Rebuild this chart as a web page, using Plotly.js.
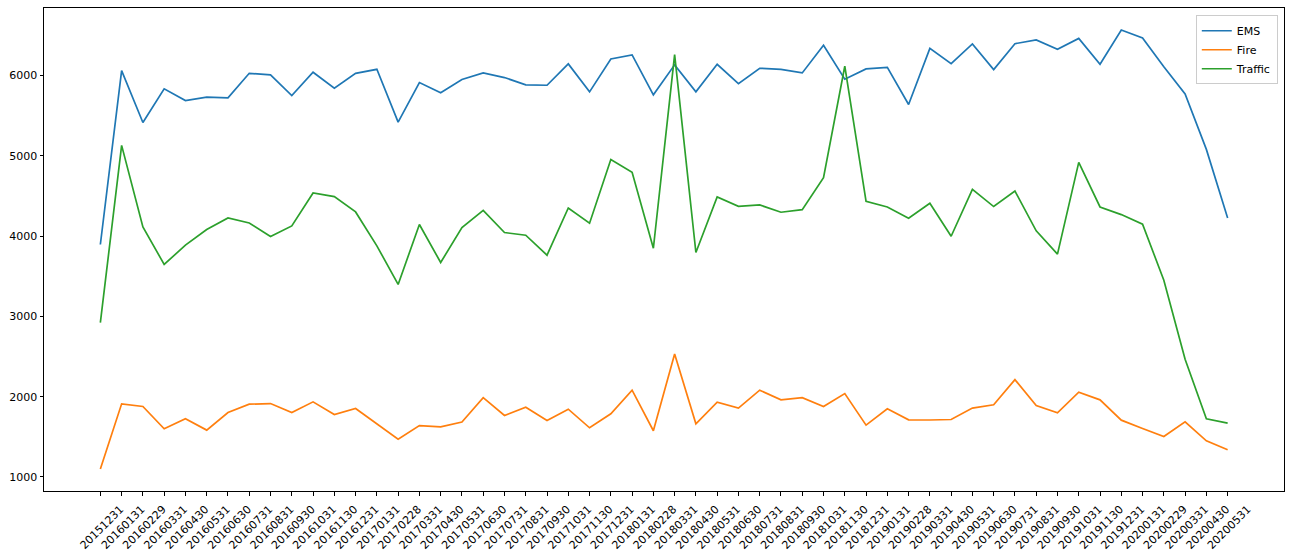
<!DOCTYPE html>
<html>
<head>
<meta charset="utf-8">
<script src="https://cdn.plot.ly/plotly-3.0.1.min.js"></script>
<style>html,body{margin:0;padding:0;background:#fff;}#chart{width:1291px;height:554px;}</style>
</head>
<body>
<div id="chart"></div>
<script>
const dates = ["20151231","20160131","20160229","20160331","20160430","20160531","20160630","20160731","20160831","20160930","20161031","20161130","20161231","20170131","20170228","20170331","20170430","20170531","20170630","20170731","20170831","20170930","20171031","20171130","20171231","20180131","20180228","20180331","20180430","20180531","20180630","20180731","20180831","20180930","20181031","20181130","20181231","20190131","20190228","20190331","20190430","20190531","20190630","20190731","20190831","20190930","20191031","20191130","20191231","20200131","20200229","20200331","20200430","20200531"];

const ems = [3896,6063,5416,5835,5690,5731,5723,6029,6009,5752,6042,5843,6029,6079,5420,5914,5786,5951,6034,5976,5885,5880,6146,5798,6208,6258,5761,6134,5798,6141,5901,6092,6079,6034,6378,5955,6084,6104,5640,6340,6150,6395,6075,6398,6444,6328,6464,6141,6569,6469,6110,5773,5081,4227];

const fire = [1099,1911,1878,1600,1725,1584,1803,1907,1915,1803,1936,1778,1853,1660,1472,1641,1625,1684,1989,1766,1870,1704,1845,1613,1787,2081,1576,2533,1663,1932,1858,2081,1961,1989,1878,2039,1646,1849,1712,1710,1716,1858,1899,2213,1890,1799,2057,1961,1708,1604,1505,1687,1451,1339];

const traffic = [2922,5131,4115,3648,3888,4083,4227,4165,3996,4128,4538,4493,4302,3880,3399,4145,3672,4107,4322,4045,4012,3763,4351,4161,4956,4795,3850,6262,3797,4488,4372,4389,4298,4331,4729,6117,4434,4364,4223,4410,3999,4584,4369,4563,4066,3776,4919,4364,4269,4149,3452,2467,1725,1671];

const seriesNames = ["EMS","Fire","Traffic"];
const seriesColors = ["#1f77b4","#ff7f0e","#2ca02c"];
const yTicks = [1000,2000,3000,4000,5000,6000];

const allY = ems.concat(fire, traffic);
const yMin = Math.min.apply(null, allY), yMax = Math.max.apply(null, allY);
const yPad = (yMax - yMin) * 0.05;
const xPad = (dates.length - 1) * 0.05;

const traces = [ems, fire, traffic].map((vals, i) => ({
  type: "scatter",
  mode: "lines",
  name: seriesNames[i],
  x: dates,
  y: vals,
  line: {color: seriesColors[i], width: 1.7}
}));

const axisCommon = {
  showgrid: false,
  zeroline: false,
  showline: true,
  mirror: true,
  linecolor: "#000",
  linewidth: 1,
  ticks: "outside",
  ticklen: 3.5,
  tickwidth: 1,
  tickcolor: "#000",
  tickfont: {family: "DejaVu Sans", size: 11, color: "#000"}
};

const layout = {
  width: 1291,
  height: 554,
  margin: {l: 44, r: 7, t: 8, b: 63},
  paper_bgcolor: "#fff",
  plot_bgcolor: "#fff",
  showlegend: true,
  legend: {
    x: 0.995, y: 0.985, xanchor: "right", yanchor: "top",
    bgcolor: "rgba(255,255,255,0.8)",
    bordercolor: "#cccccc", borderwidth: 1,
    font: {family: "DejaVu Sans", size: 11, color: "#000"},
    tracegroupgap: 0,
    itemwidth: 30
  },
  xaxis: Object.assign({}, axisCommon, {
    type: "category",
    range: [-xPad, dates.length - 1 + xPad],
    tickvals: dates,
    ticktext: dates,
    tickangle: -45,
    ticklabelshift: 20,
    ticklabelstandoff: 3
  }),
  yaxis: Object.assign({}, axisCommon, {
    range: [yMin - yPad, yMax + yPad],
    tickvals: yTicks,
    ticktext: yTicks.map(String)
  })
};

Plotly.newPlot("chart", traces, layout, {displayModeBar: false, staticPlot: true});
</script>
</body>
</html>
